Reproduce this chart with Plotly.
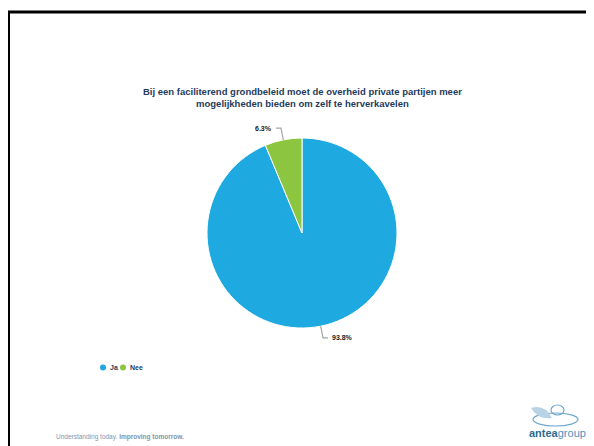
import math
import plotly.graph_objects as go

# ---- data ----
categories = ["Ja", "Nee"]
values = [93.8, 6.3]
colors = ["#1FA9E1", "#8CC540"]
title_lines = ["Bij een faciliterend grondbeleid moet de overheid private partijen meer",
               "mogelijkheden bieden om zelf te herverkavelen"]
footer_left = "Understanding today. <b>Improving tomorrow.</b>"

OFF = 8                      # page body margin
W, H = 594 - OFF, 446 - OFF  # figure size
cx, cy, R = 302, 233, 95     # pie placement in window pixels


def px(x):
    return (x - OFF) / W


def py(y):
    return 1 - (y - OFF) / H


fig = go.Figure()
fig.add_trace(go.Pie(
    labels=categories, values=values, sort=False, direction="clockwise",
    rotation=0, marker=dict(colors=colors, line=dict(color="white", width=1)),
    textinfo="none", hoverinfo="label+percent", showlegend=False,
    domain=dict(x=[px(cx - R), px(cx + R)], y=[py(cy + R), py(cy - R)]),
))

shapes = []
annotations = []
FONT = "Liberation Sans, Arial"

# leader lines and labels computed from values
total = sum(values)
cum = 0
for cat, v in zip(categories, values):
    mid = (cum + v / 2) / total * 2 * math.pi
    cum += v
    sx, sy = cx + R * math.sin(mid), cy - R * math.cos(mid)
    ex, ey = cx + (R + 12) * math.sin(mid), cy - (R + 12) * math.cos(mid)
    side = 1 if math.sin(mid) >= 0 else -1
    hx = ex + side * 5
    shapes.append(dict(type="path", xref="paper", yref="paper",
                       path=f"M {px(sx)} {py(sy)} L {px(ex)} {py(ey)} L {px(hx)} {py(ey)}",
                       line=dict(color="#A6A6A6", width=1.2)))
    annotations.append(dict(x=px(hx + side * 2), y=py(ey), xref="paper", yref="paper",
                            text=f"<b>{v:.1f}%</b>", showarrow=False,
                            xanchor="left" if side > 0 else "right", yanchor="middle",
                            font=dict(size=7, color="#1a1a1a", family=FONT)))

# manual legend (circle markers)
lx = 103
for cat, col in zip(categories, colors):
    shapes.append(dict(type="circle", xref="paper", yref="paper",
                       x0=px(lx - 3), x1=px(lx + 3), y0=py(370.5), y1=py(364.5),
                       fillcolor=col, line=dict(width=0)))
    annotations.append(dict(x=px(lx + 5), y=py(367.5), xref="paper", yref="paper",
                            text=f"<b>{cat}</b>", showarrow=False, xanchor="left", yanchor="middle",
                            font=dict(size=7, color="#1F3B5C", family=FONT)))
    lx += 20

# title
annotations.append(dict(x=px(302), y=py(98), xref="paper", yref="paper",
                        text="<b>" + "<br>".join(title_lines) + "</b>", showarrow=False,
                        align="center", xanchor="center", yanchor="middle",
                        font=dict(size=9.5, color="#1F3B5C", family=FONT)))

# footer text
annotations.append(dict(x=px(54), y=py(437), xref="paper", yref="paper",
                        text=footer_left, showarrow=False, xanchor="left", yanchor="middle",
                        font=dict(size=6.5, color="#7F95AD", family=FONT)))
# logo text
annotations.append(dict(x=px(557), y=py(433), xref="paper", yref="paper",
                        text="<b><span style='color:#2D6A8E'>antea</span></b><span style='color:#4D93BA'>group</span>",
                        showarrow=False, xanchor="center", yanchor="middle",
                        font=dict(size=11, family=FONT)))

# logo swirl
shapes.append(dict(type="circle", xref="paper", yref="paper",
                   x0=px(533), x1=px(578), y0=py(426), y1=py(413),
                   line=dict(color="#6FA9CF", width=1.2)))
shapes.append(dict(type="circle", xref="paper", yref="paper",
                   x0=px(551), x1=px(564), y0=py(415), y1=py(405),
                   line=dict(color="#6FA9CF", width=1.2)))
shapes.append(dict(type="path", xref="paper", yref="paper",
                   path=f"M {px(531)} {py(408)} Q {px(545)} {py(404)} {px(552)} {py(418)} Q {px(538)} {py(420)} {px(531)} {py(408)} Z",
                   fillcolor="#B9D3E6", line=dict(width=0)))

# frame
shapes.append(dict(type="line", xref="paper", yref="paper",
                   x0=px(8), x1=1, y0=py(12), y1=py(12), line=dict(color="black", width=3)))
shapes.append(dict(type="line", xref="paper", yref="paper",
                   x0=px(8.5), x1=px(8.5), y0=py(12), y1=0, line=dict(color="black", width=3)))

fig.update_layout(
    width=W, height=H, margin=dict(l=0, r=0, t=0, b=0),
    paper_bgcolor="white", plot_bgcolor="white",
    xaxis=dict(visible=False), yaxis=dict(visible=False),
    showlegend=False,
    shapes=shapes, annotations=annotations,
)

fig.write_html("out.html")
